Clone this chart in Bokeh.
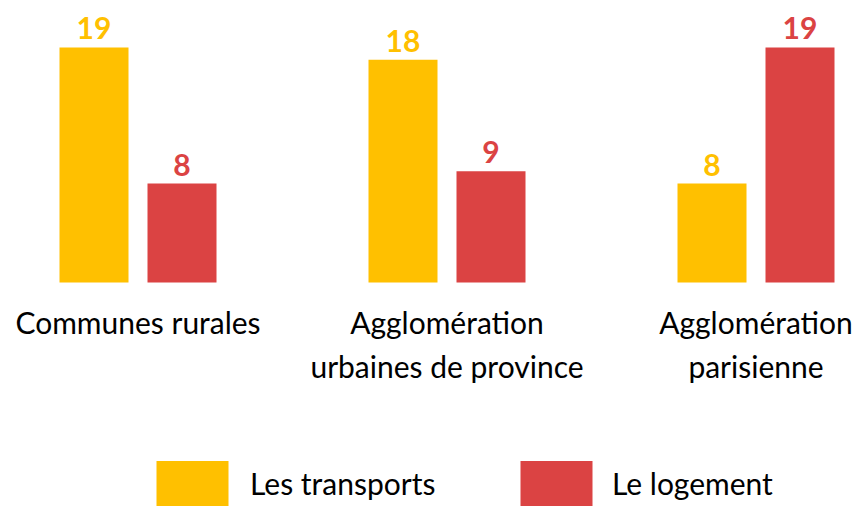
from bokeh.plotting import figure
from bokeh.models import ColumnDataSource, Range1d, Legend, LegendItem
from bokeh.core.properties import value
from bokeh.embed import file_html
from bokeh.resources import INLINE

categories = ["Communes rurales", "Agglomération\nurbaines de province", "Agglomération\nparisienne"]
transports = [19, 18, 8]
logement = [8, 9, 19]
series_names = ["Les transports", "Le logement"]
colors = ["#FFC000", "#DB4343"]

W, H = 855, 506
group_px = 309.0          # pixels between group centres
first_centre_px = 137.5   # first group centre, from left of frame
px_per_unit = 12.37       # vertical pixels per value unit
zero_from_top = 282.0

x0 = -first_centre_px / group_px
y1 = zero_from_top / px_per_unit
y0 = -(H - zero_from_top) / px_per_unit

p = figure(width=W, height=H, output_backend="svg", toolbar_location=None,
           x_range=Range1d(x0, x0 + W / group_px), y_range=Range1d(y0, y1),
           min_border=0, outline_line_color=None)
p.axis.visible = False
p.grid.visible = False
p.background_fill_color = "white"
p.border_fill_color = "white"

idx = list(range(len(categories)))
off = 44.0 / group_px
bw = 69.0 / group_px
FONT = "Lato"

renderers = []
for k, (vals, col) in enumerate(zip([transports, logement], colors)):
    xs = [i + (-off if k == 0 else off) for i in idx]
    src = ColumnDataSource(dict(x=xs, top=vals, lab=[str(v) for v in vals]))
    r = p.vbar(x="x", top="top", bottom=0, width=bw, source=src,
               fill_color=col, line_color=None)
    renderers.append(r)
    p.text(x="x", y="top", text="lab", source=src, text_align="center",
           text_baseline="alphabetic", y_offset=-19, text_color=col,
           text_font=value(FONT), text_font_style="bold", text_font_size="30px")

csrc = ColumnDataSource(dict(x=idx, y=[0] * len(idx), t=categories))
p.text(x="x", y="y", text="t", source=csrc, text_align="center",
       text_baseline="top", y_offset=21, text_color="black",
       text_font=value(FONT), text_font_size="30px", text_line_height=1.23)

leg_x = [147, 511]
standoff = [13, 11]
for k in range(2):
    lg = Legend(items=[LegendItem(label=series_names[k], renderers=[renderers[k]])],
                location=(leg_x[k], -5), orientation="horizontal",
                padding=0, margin=0, glyph_width=90, glyph_height=56,
                label_standoff=standoff[k], border_line_color=None,
                background_fill_alpha=0, label_text_font=FONT,
                label_text_font_size="30px", label_text_color="black")
    p.add_layout(lg, "center")

open("out.html", "w").write(file_html(p, INLINE))
